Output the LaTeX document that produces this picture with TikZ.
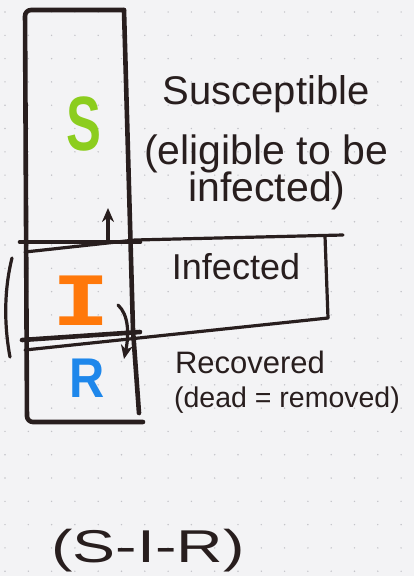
\documentclass[tikz,border=0pt]{standalone}
\usepackage{fontspec}
\usepackage{graphicx}
\setmainfont{Liberation Sans}
\newfontfamily\monof{DejaVu Sans Mono}
\usetikzlibrary{arrows.meta}
\definecolor{ink}{RGB}{40,30,30}
\definecolor{sgreen}{RGB}{140,205,30}
\definecolor{iorange}{RGB}{255,120,10}
\definecolor{rblue}{RGB}{30,135,235}
\definecolor{paper}{RGB}{243,243,245}
\definecolor{dotc}{RGB}{195,195,200}
\tikzset{
  pen/.style={draw=ink, line width=4.6pt, line cap=round, line join=round},
  thinpen/.style={draw=ink, line width=3.2pt, line cap=round, line join=round},
  lbl/.style={text=ink, inner sep=0pt, anchor=base},
  big/.style={inner sep=0pt, anchor=center, font=\bfseries},
  tip/.style={-{Stealth[length=14pt,width=12pt]}}
}
\begin{document}
\begin{tikzpicture}[x=1pt,y=-1pt]
\fill[paper] (0,0) rectangle (414,576);
\useasboundingbox (0,0) rectangle (414,576);
\foreach \i in {0,...,17}{\foreach \j in {0,...,24}{\fill[dotc] (5+23.3*\i,12+23.3*\j) circle (0.8);}}
% main column
\coordinate (tl) at (25,10);
\coordinate (tr) at (124,10);
\coordinate (bl) at (27,422);
\coordinate (br) at (143,422);
\draw[pen, rounded corners=6pt] (tr) -- (tl) -- (bl) -- (br);
\draw[pen] (tr) -- (133,330) -- (139,413);
% compartment lines
\draw[pen] (20,242) -- (140,242);
\draw[pen] (22,340) -- (140,332);
% infected box
\coordinate (ia) at (25,252);
\coordinate (ib) at (135,240);
\coordinate (ic) at (343,235);
\coordinate (id) at (325,236);
\coordinate (ie) at (328,318);
\coordinate (ig) at (25,350);
\draw[thinpen] (ia) -- (ib) -- (ic);
\draw[thinpen] (id) -- (ie);
\draw[thinpen] (ig) -- (ie);
% arrows
\coordinate (ua) at (108,240);
\coordinate (ub) at (108,208);
\draw[thinpen, tip] (ua) -- (ub);
\coordinate (da) at (118,305);
\coordinate (db) at (124,359);
\draw[thinpen, tip] (da) .. controls (129,315) and (129,335) .. (db);
% left bracket
\coordinate (ka) at (12,258);
\coordinate (kb) at (10,357);
\draw[thinpen] (ka) .. controls (4,290) and (4,325) .. (kb);
% letters
\node[big, text=sgreen] (S) at (84,124) {\scalebox{0.68}[1]{\fontsize{77}{77}\selectfont S}};
\node[big, text=iorange] (I) at (81,301) {\scalebox{1.45}[1]{\monof\bfseries\fontsize{68}{68}\selectfont I}};
\node[big, text=rblue] (R) at (87,378) {\scalebox{0.87}[1]{\fontsize{56}{56}\selectfont R}};
% labels
\node[lbl] (sus) at (266,104) {\fontsize{40}{40}\selectfont Susceptible};
\node[lbl] (el) at (266,164) {\fontsize{41}{41}\selectfont (eligible to be};
\node[lbl] (inf) at (267,201) {\fontsize{41}{41}\selectfont infected)};
\node[lbl] (infd) at (236,279) {\fontsize{36}{36}\selectfont Infected};
\node[lbl] (rec) at (250,373) {\fontsize{31}{31}\selectfont Recovered};
\node[lbl] (dead) at (287,407) {\fontsize{28.5}{28.5}\selectfont (dead = removed)};
\node[lbl] (sir) at (148,562) {\scalebox{1.4}[1]{\fontsize{46}{46}\selectfont (S-I-R)}};
\end{tikzpicture}
\end{document}
